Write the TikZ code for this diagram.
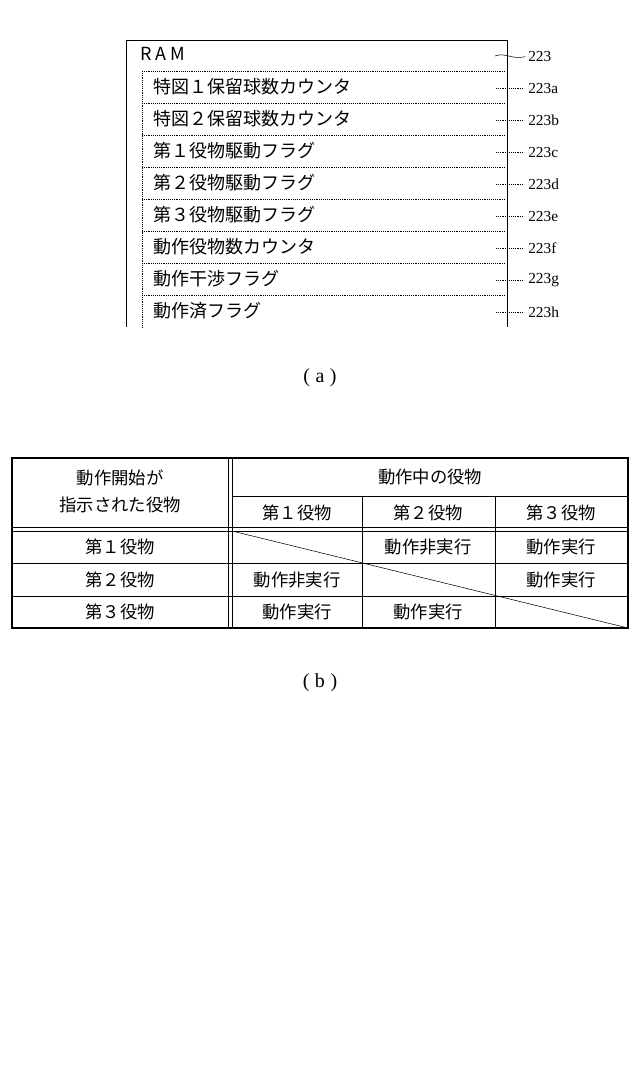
\documentclass[tikz,border=0pt]{standalone}
\usepackage{fontspec}
\setmainfont{Liberation Serif}
\newfontfamily\jp{Noto Sans CJK JP}
\tikzset{
  item/.style={anchor=west, inner sep=0pt, font=\jp\fontsize{13.5}{15}\selectfont},
  refno/.style={anchor=west, inner sep=0pt, font=\fontsize{11.5}{13}\selectfont},
  cell/.style={inner sep=0pt, font=\jp\fontsize{13}{15}\selectfont},
  figcap/.style={inner sep=0pt, font=\fontsize{15}{17}\selectfont}
}
\begin{document}
\begin{tikzpicture}[x=0.75pt,y=-0.75pt]
\useasboundingbox (0,0) rectangle (640,1085);
% (a) RAM
\draw (126,327) -- (126,40) -- (507,40) -- (507,327);
\node[item] (ram) at (140,54) {R A M};
\node[refno] (n223) at (528,56) {223};
\draw[shorten >=2pt] (495,56) .. controls (505,52) and (512,60) .. (n223.west);
\foreach \t/\s [count=\i from 0] in {特図１保留球数カウンタ/a,特図２保留球数カウンタ/b,第１役物駆動フラグ/c,第２役物駆動フラグ/d,第３役物駆動フラグ/e,動作役物数カウンタ/f,動作干渉フラグ/g,動作済フラグ/h}{
  \draw[densely dotted] (142,71+32*\i) -- (505,71+32*\i);
  \node[item] (it\s) at (153,87+32*\i) {\t};
  \node[refno] (n\s) at (528,88+32*\i) {223\s};
  \draw[densely dotted, shorten >=3pt] (496,88+32*\i) -- (n\s.west);
}
\draw[densely dotted] (142,71) -- (142,327);
\node[figcap] (capa) at (320,378) {(\;a\;)};
% (b) table
\draw[thick] (12,458) rectangle (628,628);
\draw (228,458) -- (228,628);
\draw (232,458) -- (232,628);
\draw (232,496) -- (628,496);
\draw (12,527) -- (628,527);
\draw (12,531) -- (628,531);
\draw (12,563) -- (628,563);
\draw (12,596) -- (628,596);
\draw (362,496) -- (362,628);
\draw (495,496) -- (495,628);
\draw (232,531) -- (628,628);
\node[cell] (h1) at (120,478) {動作開始が};
\node[cell] (h2) at (120,505) {指示された役物};
\node[cell] (h3) at (430,477) {動作中の役物};
\node[cell] (c1) at (297,513) {第１役物};
\node[cell] (c2) at (428,513) {第２役物};
\node[cell] (c3) at (561,513) {第３役物};
\node[cell] (r1) at (120,547) {第１役物};
\node[cell] (r2) at (120,580) {第２役物};
\node[cell] (r3) at (120,612) {第３役物};
\node[cell] (v12) at (428,547) {動作非実行};
\node[cell] (v13) at (561,547) {動作実行};
\node[cell] (v21) at (297,580) {動作非実行};
\node[cell] (v23) at (561,580) {動作実行};
\node[cell] (v31) at (297,612) {動作実行};
\node[cell] (v32) at (428,612) {動作実行};
\node[figcap] (capb) at (320,683) {(\;b\;)};
\end{tikzpicture}
\end{document}
